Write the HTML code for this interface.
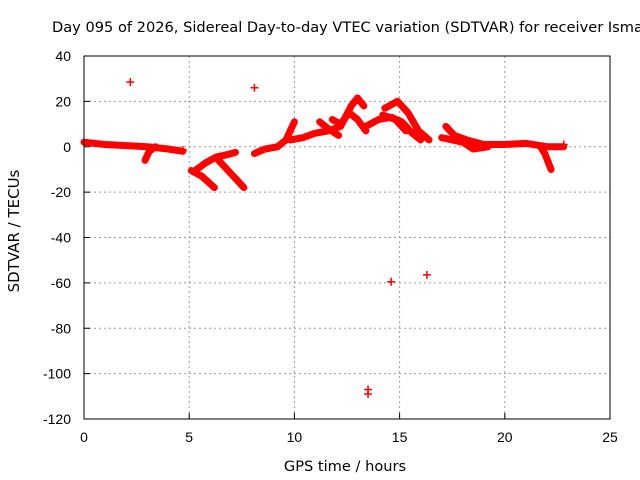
<!DOCTYPE html>
<html><head><meta charset="utf-8"><style>
body{margin:0;background:#fff;}
svg{display:block;font-family:"Liberation Sans",sans-serif;}
.dj{font-family:"DejaVu Sans","Liberation Sans",sans-serif;}
</style></head><body>
<svg id="c" width="640" height="480">
<text class="dj" x="52" y="32" font-size="14.6" fill="#000">Day 095 of 2026, Sidereal Day-to-day VTEC variation (SDTVAR) for receiver Isma</text>
<text class="dj" x="345" y="471" font-size="14.6" text-anchor="middle">GPS time / hours</text>
<text class="dj" transform="translate(19,231) rotate(-90)" font-size="15" text-anchor="middle">SDTVAR / TECUs</text>
<g id="grid"></g><g id="marks"></g>
<rect x="84" y="56" width="526" height="363" fill="none" stroke="#000"/>
</svg>
<script>
const xTicks=[0,5,10,15,20,25];
const yTicks=[40,20,0,-20,-40,-60,-80,-100,-120];
const trackA=[[0,2],[1,1],[2,0.5],[3,0],[4,-1],[4.7,-2]];
const trackA2=[[2.9,-6],[3.1,-2],[3.4,0]];
const trackB1=[[5.1,-10.5],[5.6,-13],[6.2,-18]];
const trackB2=[[5.2,-11],[5.8,-7],[6.3,-4.5],[6.8,-3.5],[7.2,-2.5]];
const trackB3=[[6.3,-5],[6.9,-11],[7.3,-15],[7.6,-18]];
const trackC1=[[8.1,-3],[8.6,-1],[9.2,0],[9.6,3],[10,11]];
const trackC2=[[9.8,3],[10.4,4],[11,6],[11.6,7],[12.2,9],[12.7,18],[13,21.5],[13.3,18]];
const trackC3=[[11.2,11],[11.6,8],[12.1,5]];
const trackC4=[[11.8,12],[12.2,10],[12.6,15],[13,12],[13.4,7]];
const trackD1=[[13.4,9],[14,12],[14.6,13],[15.1,11],[15.6,6],[16,3]];
const trackD2=[[14.3,17],[14.9,20],[15.4,15],[15.9,7],[16.4,3]];
const trackD3=[[14.2,14],[14.8,12],[15.3,7]];
const trackE1=[[17.2,9],[17.6,5],[18.2,3],[19,1],[20,1],[21,1.5],[22,0],[22.8,0]];
const trackE2=[[17,4],[18,2],[18.5,-1],[19.2,0]];
const trackE3=[[21.7,0],[21.9,-3],[22.2,-10]];
const tracks=[trackA,trackA2,trackB1,trackB2,trackB3,trackC1,trackC2,trackC3,trackC4,trackD1,trackD2,trackD3,trackE1,trackE2,trackE3];
const isoPoints=[[2.2,28.5],[8.1,26],[4.7,-1.5],[13.5,-107],[13.5,-109],[14.6,-59.5],[16.3,-56.5],[22.8,1]];
const NS="http://www.w3.org/2000/svg";
const X=t=>84+t*526/25, Y=v=>56+(40-v)*363/160;
const grid=document.getElementById('grid'), marks=document.getElementById('marks');
function mk(tag,a,p){const e=document.createElementNS(NS,tag);for(const k in a)e.setAttribute(k,a[k]);p.appendChild(e);return e;}
xTicks.forEach(t=>{
 if(t>0&&t<25){const l=mk('line',{x1:X(t),x2:X(t),y1:56,y2:419,stroke:'#999','stroke-dasharray':'2,3'},grid);
 
 }
 mk('line',{x1:X(t),x2:X(t),y1:419,y2:413,stroke:'#000'},grid);
 const tx=mk('text',{x:X(t),y:442,'font-size':14,'text-anchor':'middle'},grid);tx.textContent=t;
 
 
});
yTicks.forEach(v=>{
 if(v<40&&v>-120){const l=mk('line',{x1:84,x2:610,y1:Y(v),y2:Y(v),stroke:'#999','stroke-dasharray':'2,3'},grid);
 
 }
 mk('line',{x1:84,x2:90,y1:Y(v),y2:Y(v),stroke:'#000'},grid);
 const tx=mk('text',{x:71,y:Y(v)+5,'font-size':14,'text-anchor':'end'},grid);tx.textContent=v;
 
 
});
tracks.forEach(tr=>{
 const p=mk('polyline',{points:tr.map(d=>X(d[0])+','+Y(d[1])).join(' '),fill:'none',stroke:'#f00','stroke-width':7,'stroke-linejoin':'round','stroke-linecap':'round'},marks);
 
 
});
isoPoints.forEach(d=>{
 const x=X(d[0]),y=Y(d[1]);
 const p=mk('path',{d:`M${x-4},${y}H${x+4}M${x},${y-4}V${y+4}`,stroke:'#f00','stroke-width':1.5},marks);
 
 
});
</script>
</body></html>
